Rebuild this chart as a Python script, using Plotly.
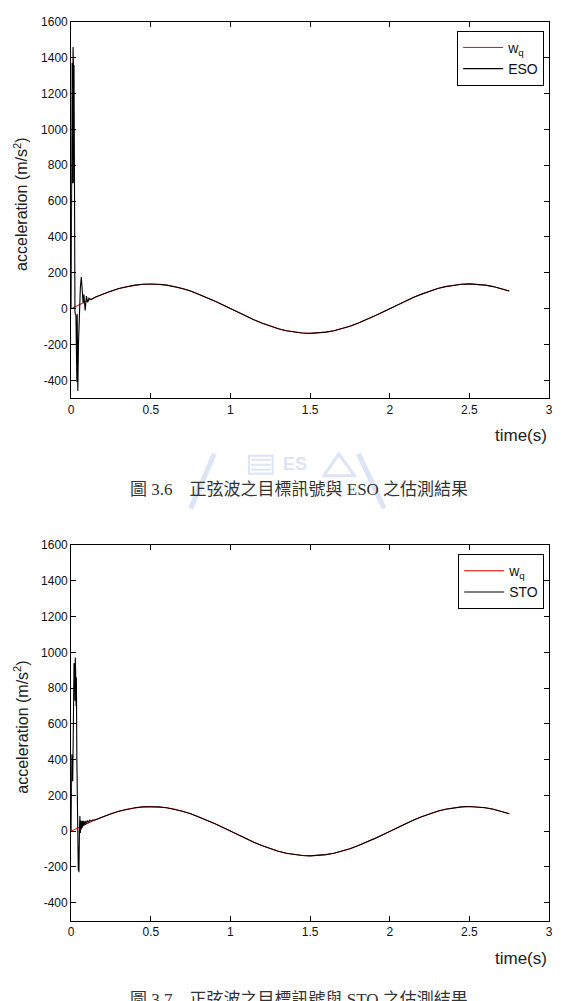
import plotly.graph_objects as go

W, H = 561, 1001

# ---------------- data ----------------
time_sine = [0.00, 0.05, 0.10, 0.15, 0.20, 0.25, 0.30, 0.35, 0.40, 0.45, 0.50,
             0.55, 0.60, 0.65, 0.70, 0.75, 0.80, 0.85, 0.90, 0.95, 1.00,
             1.05, 1.10, 1.15, 1.20, 1.25, 1.30, 1.35, 1.40, 1.45, 1.50,
             1.55, 1.60, 1.65, 1.70, 1.75, 1.80, 1.85, 1.90, 1.95, 2.00,
             2.05, 2.10, 2.15, 2.20, 2.25, 2.30, 2.35, 2.40, 2.45, 2.50,
             2.55, 2.60, 2.65, 2.70, 2.75]
wq_values = [0, 22, 43, 63, 81, 98, 112, 123, 131, 136, 138,
             136, 131, 123, 112, 98, 81, 63, 43, 22, 0,
             -22, -43, -63, -81, -98, -112, -123, -131, -136, -138,
             -136, -131, -123, -112, -98, -81, -63, -43, -22, 0,
             22, 43, 63, 81, 98, 112, 123, 131, 136, 138,
             136, 131, 123, 112, 98]

# ESO estimate: start-up transient, then it tracks the sine
eso_time_start = [0.000, 0.004, 0.006, 0.008, 0.010, 0.012, 0.014, 0.016, 0.018,
                  0.021, 0.024, 0.030, 0.032, 0.034, 0.036, 0.038, 0.040, 0.042,
                  0.046, 0.052, 0.058, 0.064, 0.070, 0.075, 0.080, 0.088, 0.096,
                  0.104, 0.112, 0.125]
eso_values_start = [0, 690, 1370, 700, 1380, 1460, 1370, 700, 1360,
                    690, -20, -40, -400, -40, -410, -30, -420, -460,
                    -200, 0, 120, 177, 90, 30, 80, -10, 70,
                    35, 58, 50]

# STO estimate: start-up transient, then it tracks the sine
sto_time_start = [0.000, 0.002, 0.004, 0.006, 0.008, 0.010, 0.014, 0.018, 0.020,
                  0.022, 0.024, 0.026, 0.029, 0.031, 0.033, 0.036, 0.040, 0.043,
                  0.045, 0.047, 0.049, 0.052, 0.055, 0.058, 0.061, 0.064, 0.067,
                  0.070, 0.074, 0.078, 0.082, 0.087, 0.092, 0.097, 0.103, 0.110,
                  0.118, 0.126, 0.135]
sto_values_start = [0, 270, 430, 280, 420, 280, 600, 940, 720,
                    930, 730, 972, 860, 700, 860, 400, 0, -90,
                    -220, -85, -230, 0, 85, -10, 60, 10, 55,
                    20, 60, 30, 55, 35, 58, 42, 60, 50,
                    62, 55, 62]

x_ticks = [0, 0.5, 1, 1.5, 2, 2.5, 3]
x_ticktext = ["0", "0.5", "1", "1.5", "2", "2.5", "3"]
y_ticks = [-400, -200, 0, 200, 400, 600, 800, 1000, 1200, 1400, 1600]
y_ticktext = ["-400", "-200", "0", "200", "400", "600", "800", "1000", "1200", "1400", "1600"]

legend_ref = "w<sub>q</sub>"
legend_est = ["ESO", "STO"]
captions = ["圖 3.6\u3000正弦波之目標訊號與 ESO 之估測結果",
            "圖 3.7\u3000正弦波之目標訊號與 STO 之估測結果"]

# tail of estimates follows the reference after the transient
eso_time = eso_time_start + [t for t in time_sine if t >= 0.15]
eso_values = eso_values_start + [v for t, v in zip(time_sine, wq_values) if t >= 0.15]
sto_time = sto_time_start + [t for t in time_sine if t >= 0.15]
sto_values = sto_values_start + [v for t, v in zip(time_sine, wq_values) if t >= 0.15]

# ---------------- layout helpers ----------------
def px(x):
    return x / W

def py(y):
    return 1 - y / H

FONT = "Liberation Sans, Arial, sans-serif"
PLOT_L, PLOT_R = 69, 553
panels = [(15, 394), (542, 920)]

fig = go.Figure()

est_sets = [(eso_time, eso_values), (sto_time, sto_values)]
for i, (t_est, v_est) in enumerate(est_sets):
    xa = "x" if i == 0 else "x2"
    ya = "y" if i == 0 else "y2"
    lg = "legend" if i == 0 else "legend2"
    fig.add_trace(go.Scatter(x=time_sine, y=wq_values, mode="lines",
                             line=dict(color="#ff0000", width=1),
                             name=legend_ref, xaxis=xa, yaxis=ya, legend=lg))
    fig.add_trace(go.Scatter(x=t_est, y=v_est, mode="lines",
                             line=dict(color="#000000", width=1.1),
                             name=legend_est[i], xaxis=xa, yaxis=ya, legend=lg))

axis_common = dict(showline=True, linecolor="black", linewidth=1, mirror="ticks",
                   ticks="inside", ticklen=5, tickcolor="black", tickwidth=1,
                   showgrid=False, zeroline=False,
                   tickfont=dict(family=FONT, size=12, color="#111111"))

layout = dict(width=W, height=H, margin=dict(l=0, r=0, t=0, b=0),
              paper_bgcolor="white", plot_bgcolor="white", showlegend=True)

for i, (top, bot) in enumerate(panels):
    sx = "" if i == 0 else "2"
    layout["xaxis" + sx] = dict(domain=[px(PLOT_L), px(PLOT_R)], range=[0, 3],
                                tickvals=x_ticks, ticktext=x_ticktext,
                                anchor="y" + sx, **axis_common)
    layout["yaxis" + sx] = dict(domain=[py(bot), py(top)], range=[-500, 1600],
                                tickvals=y_ticks, ticktext=y_ticktext,
                                anchor="x" + sx, **axis_common)

legend_tops = [24, 551]
for i, lt in enumerate(legend_tops):
    key = "legend" if i == 0 else "legend2"
    layout[key] = dict(x=px(548), xanchor="right", y=py(lt), yanchor="top",
                       bgcolor="white", bordercolor="black", borderwidth=1,
                       font=dict(family=FONT, size=14, color="#111111"),
                       tracegroupgap=0, itemwidth=40)

fig.update_layout(**layout)

annotations = []
for i, (top, bot) in enumerate(panels):
    mid = (top + bot) / 2 - 6
    annotations.append(dict(text="acceleration (m/s<sup>2</sup>)", textangle=-90,
                            x=px(18), y=py(mid), xref="paper", yref="paper",
                            xanchor="center", yanchor="middle", showarrow=False,
                            font=dict(family=FONT, size=16, color="#222222")))
    annotations.append(dict(text="time(s)", x=px(553), y=py(bot + 38),
                            xref="paper", yref="paper", xanchor="right",
                            yanchor="middle", showarrow=False,
                            font=dict(family=FONT, size=17, color="#222222")))

caption_y = [486, 999]
for i, cy in enumerate(caption_y):
    annotations.append(dict(text=captions[i], x=px(300), y=py(cy), xref="paper",
                            yref="paper", xanchor="center", yanchor="middle",
                            showarrow=False,
                            font=dict(family="Liberation Serif, Noto Sans CJK TC",
                                      size=17, color="#333333")))

# faint watermark emblem between the two panels
wm = "#dce4f5"
annotations.append(dict(text="<b>ES</b>", x=px(296), y=py(460), xref="paper",
                        yref="paper", showarrow=False,
                        font=dict(family=FONT, size=18, color=wm)))
fig.update_layout(annotations=annotations)

shapes = [
    dict(type="line", xref="paper", yref="paper", x0=px(214), y0=py(450),
         x1=px(190), y1=py(505), line=dict(color=wm, width=5), layer="below"),
    dict(type="line", xref="paper", yref="paper", x0=px(360), y0=py(450),
         x1=px(386), y1=py(505), line=dict(color=wm, width=5), layer="below"),
    dict(type="rect", xref="paper", yref="paper", x0=px(249), y0=py(470),
         x1=px(273), y1=py(452), line=dict(color=wm, width=2), layer="below"),
    dict(type="path", xref="paper", yref="paper",
         path=f"M {px(325)},{py(472)} L {px(340)},{py(450)} L {px(356)},{py(472)} Z",
         line=dict(color=wm, width=3), layer="below"),
]
for k in range(3):
    yy = 456 + 5 * k
    shapes.append(dict(type="line", xref="paper", yref="paper", x0=px(251),
                       y0=py(yy), x1=px(271), y1=py(yy),
                       line=dict(color=wm, width=2), layer="below"))
fig.update_layout(shapes=shapes)

fig.write_html("out.html")
